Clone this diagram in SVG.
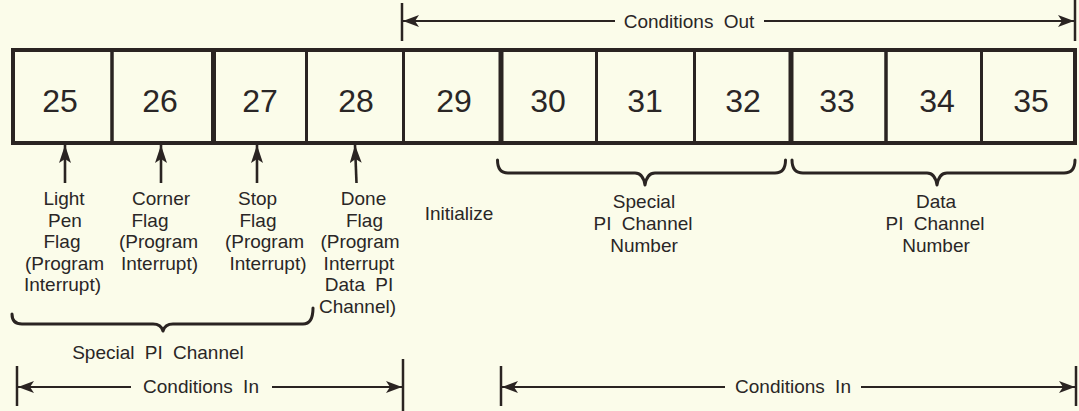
<svg xmlns="http://www.w3.org/2000/svg" width="1079" height="411" viewBox="0 0 1079 411">
<style>
.bg{fill:#fbfcea}
.cell{fill:none;stroke:#2a2422;stroke-width:3}
.outer{fill:none;stroke:#2a2422;stroke-width:4}
.thick{stroke:#2a2422;stroke-width:5}
.num{font-family:"Liberation Sans",Arial,sans-serif;font-size:32px;fill:#2a2626;text-anchor:middle}
.lbl{font-family:"Liberation Sans",Arial,sans-serif;font-size:19px;fill:#2a2626;text-anchor:middle;word-spacing:5px}
.ln{stroke:#2a2422;stroke-width:2.2;fill:none}
.tick{stroke:#2a2422;stroke-width:2.5}
.brace{stroke:#2a2422;stroke-width:3;fill:none;stroke-linecap:round;stroke-linejoin:round}
.up{stroke:#2a2422;stroke-width:2.6;fill:none}
</style>
<defs>
<marker id="ah" markerUnits="userSpaceOnUse" viewBox="0 0 16 12" refX="16" refY="6" markerWidth="16" markerHeight="12" orient="auto-start-reverse">
<path d="M0,0 L16,6 L0,12 L4,6 Z" fill="#2a2422"/>
</marker>
<marker id="uh" markerUnits="userSpaceOnUse" viewBox="0 0 18 12" refX="18" refY="6" markerWidth="18" markerHeight="12" orient="auto">
<path d="M0,0 L18,6 L0,12 L4,6 Z" fill="#2a2422"/>
</marker>
</defs>
<rect class="bg" x="0" y="0" width="1079" height="411"/>

<g id="bit25"><rect class="cell" x="13" y="50" width="99" height="93"/><text class="num" x="60" y="112">25</text></g>
<g id="bit26"><rect class="cell" x="112" y="50" width="101.5" height="93"/><text class="num" x="160" y="112">26</text></g>
<g id="bit27"><rect class="cell" x="213.5" y="50" width="93" height="93"/><text class="num" x="260" y="112">27</text></g>
<g id="bit28"><rect class="cell" x="306.5" y="50" width="97" height="93"/><text class="num" x="356" y="112">28</text></g>
<g id="bit29"><rect class="cell" x="403.5" y="50" width="97.5" height="93"/><text class="num" x="454" y="112">29</text></g>
<g id="bit30"><rect class="cell" x="501" y="50" width="95.5" height="93"/><text class="num" x="548" y="112">30</text></g>
<g id="bit31"><rect class="cell" x="596.5" y="50" width="98" height="93"/><text class="num" x="645" y="112">31</text></g>
<g id="bit32"><rect class="cell" x="694.5" y="50" width="96.5" height="93"/><text class="num" x="743" y="112">32</text></g>
<g id="bit33"><rect class="cell" x="791" y="50" width="95" height="93"/><text class="num" x="837" y="112">33</text></g>
<g id="bit34"><rect class="cell" x="886" y="50" width="95.5" height="93"/><text class="num" x="937" y="112">34</text></g>
<g id="bit35"><rect class="cell" x="981.5" y="50" width="93.5" height="93"/><text class="num" x="1031" y="112">35</text></g>
<g id="register-frame">
<rect class="outer" x="13" y="50" width="1062" height="93"/>
<line class="thick" x1="213.5" y1="50" x2="213.5" y2="143"/>
<line class="thick" x1="501" y1="50" x2="501" y2="143"/>
<line class="thick" x1="791" y1="50" x2="791" y2="143"/>
</g>

<g id="label-lightpen">
<text class="lbl" x="64" y="205">Light</text>
<text class="lbl" x="65" y="226.5">Pen</text>
<text class="lbl" x="62" y="248">Flag</text>
<text class="lbl" x="64.5" y="269.5">(Program</text>
<text class="lbl" x="62.5" y="291">Interrupt)</text>
</g>
<g id="label-corner">
<text class="lbl" x="161" y="205">Corner</text>
<text class="lbl" x="150" y="226.5">Flag</text>
<text class="lbl" x="158.5" y="248">(Program</text>
<text class="lbl" x="159.5" y="269.5">Interrupt)</text>
</g>
<g id="label-stop">
<text class="lbl" x="257.5" y="205">Stop</text>
<text class="lbl" x="258" y="226.5">Flag</text>
<text class="lbl" x="264.5" y="248">(Program</text>
<text class="lbl" x="268" y="269.5">Interrupt)</text>
</g>
<g id="label-done">
<text class="lbl" x="363.5" y="205">Done</text>
<text class="lbl" x="364.5" y="226.5">Flag</text>
<text class="lbl" x="360" y="248">(Program</text>
<text class="lbl" x="359" y="269.5">Interrupt</text>
<text class="lbl" x="359" y="291">Data PI</text>
<text class="lbl" x="357.5" y="312.5">Channel)</text>
</g>
<g id="label-initialize">
<text class="lbl" x="459" y="220">Initialize</text>
</g>
<g id="label-special-number">
<text class="lbl" x="644" y="208">Special</text>
<text class="lbl" x="643" y="230">PI Channel</text>
<text class="lbl" x="644" y="252">Number</text>
</g>
<g id="label-data-number">
<text class="lbl" x="936" y="208">Data</text>
<text class="lbl" x="935" y="230">PI Channel</text>
<text class="lbl" x="936" y="252">Number</text>
</g>
<g id="label-special-channel">
<text class="lbl" x="158" y="359">Special PI Channel</text>
</g>

<g id="connectors">
<line class="up" x1="65" y1="183" x2="65" y2="145" marker-end="url(#uh)"/>
<line class="up" x1="161" y1="183" x2="161" y2="145" marker-end="url(#uh)"/>
<line class="up" x1="257" y1="183" x2="257" y2="145" marker-end="url(#uh)"/>
<line class="up" x1="356.5" y1="183" x2="355" y2="145" marker-end="url(#uh)"/>

<path class="brace" d="M12,314 Q12,324 22,324 L153,324 Q161,324 163,331 Q165,324 173,324 L303,324 Q313,324 313,308"/>
<path class="brace" d="M497.5,160 Q497.5,173 508,173 L635,173 Q643,173 645,185 Q647,173 655,173 L775,173 Q785.5,173 785.5,160"/>
<path class="brace" d="M792,160 Q792,173 803,173 L927,173 Q935,173 937,185 Q939,173 947,173 L1064,173 Q1075,173 1075,160"/>

<line class="tick" x1="402" y1="3" x2="402" y2="41"/>
<line class="tick" x1="1075" y1="0" x2="1075" y2="41"/>
<line class="ln" x1="615" y1="21" x2="403" y2="21" marker-end="url(#ah)"/>
<line class="ln" x1="764" y1="21" x2="1074" y2="21" marker-end="url(#ah)"/>
<text class="lbl" x="689" y="28">Conditions Out</text>

<line class="tick" x1="17" y1="366" x2="17" y2="406"/>
<line class="tick" x1="403" y1="359" x2="403" y2="411"/>
<line class="ln" x1="131" y1="387" x2="18" y2="387" marker-end="url(#ah)"/>
<line class="ln" x1="272" y1="387" x2="402" y2="387" marker-end="url(#ah)"/>
<text class="lbl" x="201" y="393">Conditions In</text>

<line class="tick" x1="501" y1="366" x2="501" y2="406"/>
<line class="tick" x1="1076" y1="366" x2="1076" y2="406"/>
<line class="ln" x1="725" y1="387" x2="502" y2="387" marker-end="url(#ah)"/>
<line class="ln" x1="861" y1="387" x2="1075" y2="387" marker-end="url(#ah)"/>
<text class="lbl" x="793" y="393">Conditions In</text>
</g>
</svg>
